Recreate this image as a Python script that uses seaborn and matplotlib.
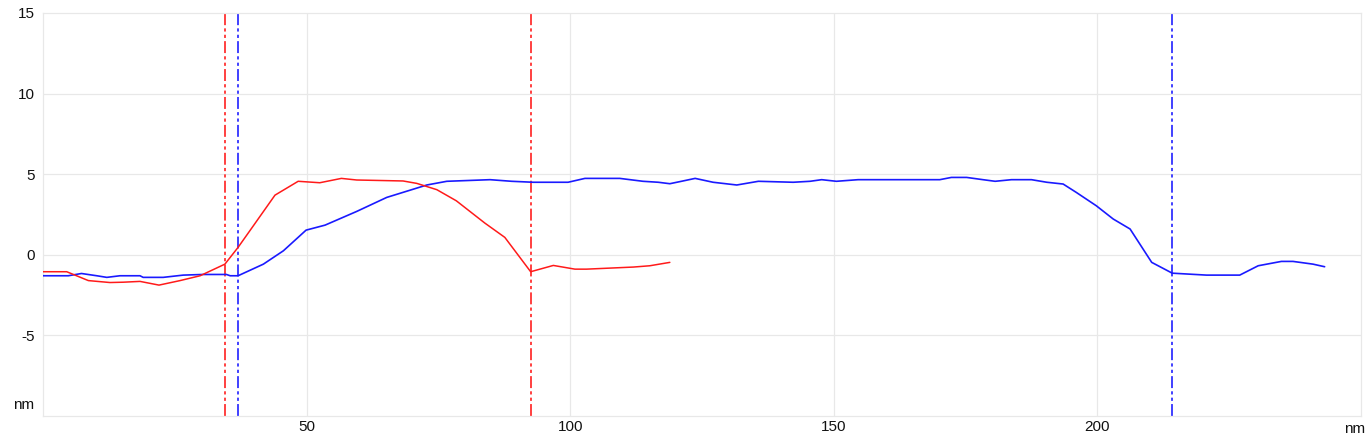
import matplotlib
matplotlib.use("Agg")
import matplotlib.pyplot as plt
import seaborn as sns
import pandas as pd

# profile data (x in nm, height in nm)
red_x = [0, 4.5, 8.6, 12.7, 15.2, 18.4, 22.0, 26.0, 29.8, 34.5, 37.0, 39.9, 44.0,
         48.4, 52.5, 56.6, 59.5, 68.3, 70.9, 74.7, 78.4, 83.8, 87.6, 92.5, 96.8,
         100.9, 103.1, 112.0, 115.1, 118.9]
red_y = [-1.05, -1.05, -1.6, -1.72, -1.7, -1.65, -1.88, -1.6, -1.3, -0.58, 0.46, 1.8, 3.7,
         4.56, 4.47, 4.74, 4.64, 4.58, 4.43, 4.04, 3.35, 1.97, 1.08, -1.05, -0.66,
         -0.89, -0.89, -0.76, -0.68, -0.47]

blue_x = [0, 4.8, 7.3, 10.2, 12.1, 14.6, 18.4, 19.0, 22.8, 26.6, 30.4, 34.8, 35.5, 37.0,
          41.8, 45.6, 49.9, 53.5, 59.5, 65.2, 72.8, 76.6, 84.8, 88.9, 93.0, 99.6,
          102.8, 109.4, 113.8, 116.7, 118.9, 121.1, 123.7, 127.1, 131.6, 135.7, 142.3,
          145.5, 147.7, 150.5, 154.6, 170.1, 172.3, 175.2, 178.3, 180.6, 183.7, 187.5,
          190.4, 193.5, 196.0, 199.8, 203.0, 206.2, 210.3, 214.2, 220.7, 227.0, 230.5,
          234.9, 237.1, 240.9, 243.1]
blue_y = [-1.3, -1.3, -1.16, -1.3, -1.4, -1.3, -1.3, -1.4, -1.4, -1.26, -1.22, -1.22, -1.3, -1.3,
          -0.58, 0.25, 1.53, 1.84, 2.69, 3.56, 4.33, 4.56, 4.66, 4.56, 4.5, 4.5,
          4.74, 4.74, 4.56, 4.5, 4.41, 4.56, 4.74, 4.5, 4.33, 4.56, 4.5,
          4.56, 4.66, 4.56, 4.66, 4.66, 4.8, 4.8, 4.66, 4.56, 4.66, 4.66,
          4.5, 4.39, 3.87, 3.04, 2.22, 1.6, -0.47, -1.14, -1.26, -1.26, -0.68,
          -0.41, -0.41, -0.58, -0.74]

# cursor positions
red_cursors = [34.5, 92.5]
blue_cursors = [37.0, 214.2]

x_ticks = [50, 100, 150, 200]
y_ticks = [-5, 0, 5, 10, 15]

red_df = pd.DataFrame({"x": red_x, "y": red_y})
blue_df = pd.DataFrame({"x": blue_x, "y": blue_y})

sns.set_style("white")
plt.rcParams["font.family"] = ["Liberation Sans", "DejaVu Sans"]
plt.rcParams["lines.scale_dashes"] = False

fig = plt.figure(figsize=(13.71, 4.36), dpi=100)
ax = fig.add_axes([43 / 1371, 20 / 436, 1318 / 1371, 403 / 436])

grid_col = "#e8e8e8"
for v in x_ticks:
    ax.axvline(v, color=grid_col, lw=0.9, zorder=0)
for v in y_ticks[:-1]:
    ax.axhline(v, color=grid_col, lw=0.9, zorder=0)

dash = (0, (8.6, 2.3, 2.3, 2.3, 2.3, 2.3))
for c in red_cursors:
    ax.axvline(c, color="#ff2020", lw=1.2, linestyle=dash, zorder=2)
for c in blue_cursors:
    ax.axvline(c, color="#2020ff", lw=1.2, linestyle=dash, zorder=2)

sns.lineplot(data=blue_df, x="x", y="y", ax=ax, color="#1a1aff", lw=1.2,
             sort=False, estimator=None, zorder=3)
sns.lineplot(data=red_df, x="x", y="y", ax=ax, color="#ff1a1a", lw=1.1,
             sort=False, estimator=None, zorder=4)

ax.set_xlim(0, 250)
ax.set_ylim(-10, 15)
ax.set_xticks(x_ticks)
ax.set_yticks(y_ticks)
ax.set_xticklabels([str(v) for v in x_ticks])
ax.set_yticklabels([str(v) for v in y_ticks])
ax.tick_params(axis="both", length=0, labelsize=11, colors="#111111")
ax.tick_params(axis="y", pad=6)
ax.tick_params(axis="x", pad=3)
ax.set_xlabel("")
ax.set_ylabel("")

for s in ax.spines.values():
    s.set_color(grid_col)
    s.set_linewidth(0.9)

# unit labels
ax.annotate("nm", xy=(0, 0), xycoords="axes fraction", xytext=(-6, 8),
            textcoords="offset points", ha="right", va="center",
            fontsize=11, color="#111111")
ax.annotate("nm", xy=(1, 0), xycoords="axes fraction", xytext=(3, -9),
            textcoords="offset points", ha="right", va="center",
            fontsize=11, color="#111111")

fig.savefig("out.png", dpi=100)
